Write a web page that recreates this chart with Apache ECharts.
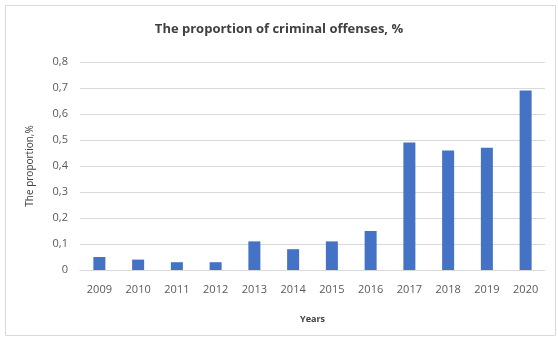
<!DOCTYPE html>
<html>
<head>
<meta charset="utf-8">
<script src="https://cdn.jsdelivr.net/npm/echarts@6/dist/echarts.min.js"></script>
<style>
  html, body { margin: 0; padding: 0; background: #fff; }
  #chart { width: 558px; height: 338px; }
</style>
</head>
<body>
<div id="chart"></div>
<script>
// data
var years = ['2009', '2010', '2011', '2012', '2013', '2014', '2015', '2016', '2017', '2018', '2019', '2020'];
var proportion = [0.05, 0.04, 0.03, 0.03, 0.11, 0.08, 0.11, 0.15, 0.49, 0.46, 0.47, 0.69];

var font = '"Open Sans", "Liberation Sans", sans-serif';

var myChart = echarts.init(document.getElementById('chart'));
var option = {
  animation: false,
  textStyle: { fontFamily: font },
  title: {
    text: 'The proportion of criminal offenses, %',
    left: 'center',
    top: 18,
    textStyle: { fontSize: 13, fontWeight: 'bold', color: '#404040', fontFamily: font }
  },
  graphic: [{
    type: 'rect',
    shape: { x: 5.5, y: 5.5, width: 550, height: 330 },
    style: { fill: 'none', stroke: '#d9d9d9', lineWidth: 1 },
    silent: true
  }],
  grid: { left: 80, right: 13, top: 62, bottom: 68 },
  xAxis: {
    type: 'category',
    data: years,
    name: 'Years',
    nameLocation: 'middle',
    nameGap: 45,
    nameTextStyle: { fontSize: 9, fontWeight: 'bold', color: '#404040' },
    axisLine: { lineStyle: { color: '#d9d9d9' } },
    axisTick: { show: false },
    axisLabel: { color: '#595959', fontSize: 11, margin: 14 }
  },
  yAxis: {
    type: 'value',
    min: 0,
    max: 0.8,
    interval: 0.1,
    name: 'The proportion,%',
    nameLocation: 'middle',
    nameGap: 45,
    nameTextStyle: { fontSize: 10, color: '#404040' },
    axisLine: { show: false },
    axisTick: { show: false },
    splitLine: { lineStyle: { color: '#d9d9d9' } },
    axisLabel: {
      color: '#595959',
      fontSize: 11,
      margin: 12,
      formatter: function (v) { return v === 0 ? '0' : v.toFixed(1).replace('.', ','); }
    }
  },
  series: [{
    type: 'bar',
    data: proportion,
    barWidth: 12,
    itemStyle: { color: '#4472C4' }
  }]
};
myChart.setOption(option);
</script>
</body>
</html>
